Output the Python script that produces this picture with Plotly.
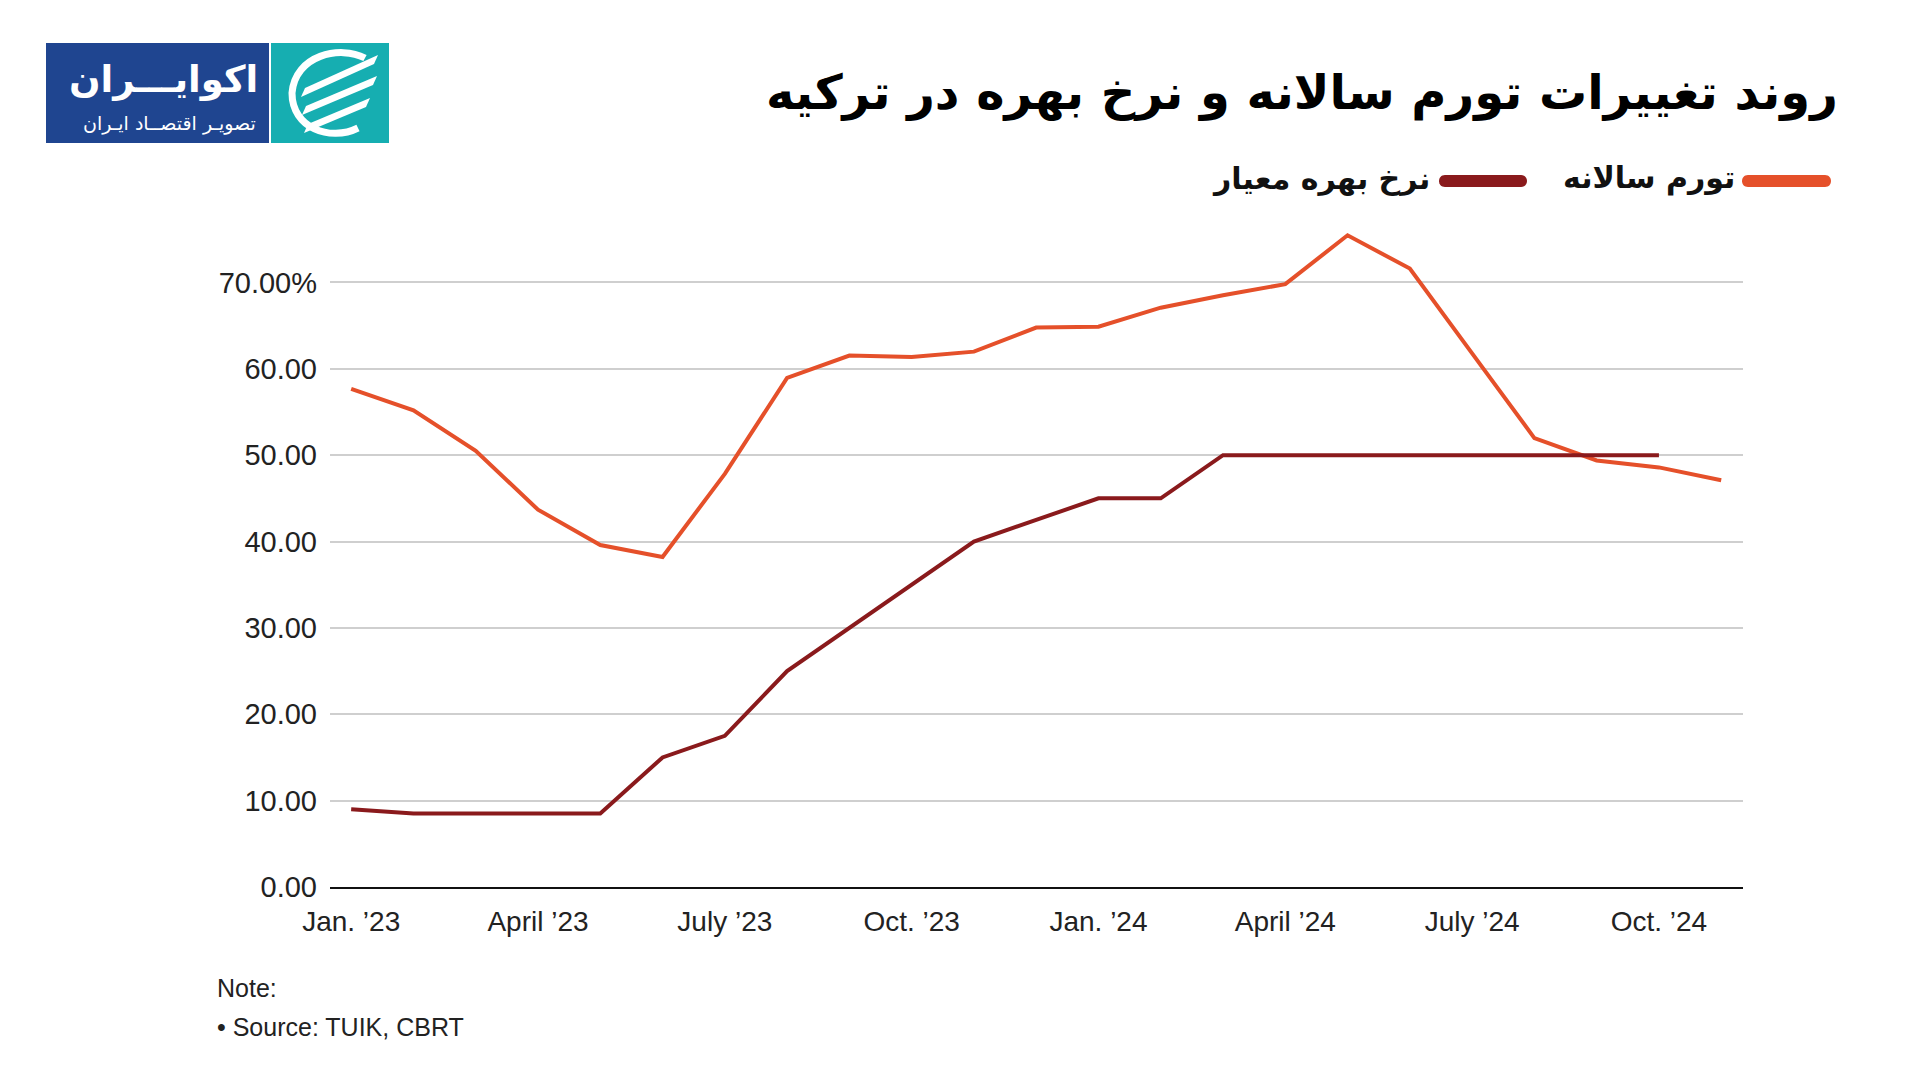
import plotly.graph_objects as go

# ---- data ----
months = ["Jan. ’23", "Feb. ’23", "Mar. ’23", "April ’23", "May ’23", "June ’23",
          "July ’23", "Aug. ’23", "Sep. ’23", "Oct. ’23", "Nov. ’23", "Dec. ’23",
          "Jan. ’24", "Feb. ’24", "Mar. ’24", "April ’24", "May ’24", "June ’24",
          "July ’24", "Aug. ’24", "Sep. ’24", "Oct. ’24", "Nov. ’24"]
inflation = [57.68, 55.18, 50.51, 43.68, 39.59, 38.21, 47.83, 58.94, 61.53, 61.36,
             61.98, 64.77, 64.86, 67.07, 68.50, 69.80, 75.45, 71.60, 61.78, 51.97,
             49.38, 48.58, 47.09]
policy_rate = [9.0, 8.5, 8.5, 8.5, 8.5, 15.0, 17.5, 25.0, 30.0, 35.0, 40.0, 42.5,
               45.0, 45.0, 50.0, 50.0, 50.0, 50.0, 50.0, 50.0, 50.0, 50.0]
series_names = ["تورم سالانه", "نرخ بهره معیار"]
x_ticks = ["Jan. ’23", "April ’23", "July ’23", "Oct. ’23",
           "Jan. ’24", "April ’24", "July ’24", "Oct. ’24"]
y_tickvals = [0, 10, 20, 30, 40, 50, 60, 70]
y_ticktext = ["0.00", "10.00", "20.00", "30.00", "40.00", "50.00", "60.00", "70.00%"]
title_text = "روند تغییرات تورم سالانه و نرخ بهره در ترکیه"
note_lines = ["Note:", "• Source: TUIK, CBRT"]
logo_title = "اکوایـــران"
logo_sub = "تصویـر اقتصــاد ایـران"

ORANGE = "#E5502A"
DARKRED = "#8A1A1C"
BLUE = "#1F4590"
TEAL = "#16AEB1"

W, H = 1920, 1080
L, R, T, B = 330, 177, 196, 193
PW, PH = W - L - R, H - T - B


def px(x):
    return (x - L) / PW


def py(y):
    return (H - B - y) / PH


fig = go.Figure()
fig.add_trace(go.Scatter(x=months, y=inflation, mode="lines", name=series_names[0],
                         line=dict(color=ORANGE, width=4)))
fig.add_trace(go.Scatter(x=months[:len(policy_rate)], y=policy_rate, mode="lines",
                         name=series_names[1], line=dict(color=DARKRED, width=4)))

shapes = []
annotations = []


def pill(x0, x1, yc, h, color):
    r = h / 2
    p = (f"M {px(x0 + r)} {py(yc - r)} L {px(x1 - r)} {py(yc - r)} "
         f"C {px(x1 + r * 0.33)} {py(yc - r)} {px(x1 + r * 0.33)} {py(yc + r)} {px(x1 - r)} {py(yc + r)} "
         f"L {px(x0 + r)} {py(yc + r)} "
         f"C {px(x0 - r * 0.33)} {py(yc + r)} {px(x0 - r * 0.33)} {py(yc - r)} {px(x0 + r)} {py(yc - r)} Z")
    return dict(type="path", xref="paper", yref="paper", path=p,
                fillcolor=color, line=dict(width=0))


shapes.append(pill(1742, 1831, 181, 12, ORANGE))
shapes.append(pill(1439, 1527, 181, 12, DARKRED))
annotations.append(dict(x=px(1737), y=py(178), xref="paper", yref="paper",
                        text=f"<b>{series_names[0]}</b>", showarrow=False,
                        xanchor="right", yanchor="middle",
                        font=dict(family="DejaVu Sans", size=30, color="#111")))
annotations.append(dict(x=px(1432), y=py(178), xref="paper", yref="paper",
                        text=f"<b>{series_names[1]}</b>", showarrow=False,
                        xanchor="right", yanchor="middle",
                        font=dict(family="DejaVu Sans", size=30, color="#111")))

# title
annotations.append(dict(x=px(1840), y=py(92), xref="paper", yref="paper",
                        text=f"<b>{title_text}</b>", showarrow=False,
                        xanchor="right", yanchor="middle",
                        font=dict(family="DejaVu Sans", size=48, color="#000")))

# note
annotations.append(dict(x=px(215), y=py(988), xref="paper", yref="paper",
                        text=note_lines[0], showarrow=False,
                        xanchor="left", yanchor="middle",
                        font=dict(family="Liberation Sans, Arial", size=25, color="#222")))
annotations.append(dict(x=px(215), y=py(1027), xref="paper", yref="paper",
                        text=note_lines[1], showarrow=False,
                        xanchor="left", yanchor="middle",
                        font=dict(family="Liberation Sans, Arial", size=25, color="#222")))

# logo boxes
shapes.append(dict(type="rect", xref="paper", yref="paper",
                   x0=px(46), x1=px(269), y0=py(143), y1=py(43),
                   fillcolor=BLUE, line=dict(width=0), layer="above"))
shapes.append(dict(type="rect", xref="paper", yref="paper",
                   x0=px(271), x1=px(389), y0=py(143), y1=py(43),
                   fillcolor=TEAL, line=dict(width=0), layer="above"))
arc = (f"M {px(365)} {py(58)} C {px(340)} {py(45)} {px(295)} {py(55)} {px(292)} {py(93)} "
       f"C {px(292)} {py(128)} {px(330)} {py(142)} {px(358)} {py(128)}")
shapes.append(dict(type="path", xref="paper", yref="paper", path=arc,
                   line=dict(color="white", width=7), layer="above"))
for (ax0, ay0, ax1, ay1) in [(305, 88, 378, 55), (306, 106, 377, 76), (308, 124, 370, 98)]:
    p = (f"M {px(ax0)} {py(ay0)} L {px(ax1)} {py(ay1)} L {px(ax1 - 4)} {py(ay1 + 9)} "
         f"L {px(ax0 - 4)} {py(ay0 + 9)} Z")
    shapes.append(dict(type="path", xref="paper", yref="paper", path=p,
                       fillcolor="white", line=dict(width=0), layer="above"))

annotations.append(dict(x=px(260), y=py(80), xref="paper", yref="paper",
                        text=f"<b>{logo_title}</b>", showarrow=False,
                        xanchor="right", yanchor="middle",
                        font=dict(family="DejaVu Sans", size=37, color="white")))
annotations.append(dict(x=px(258), y=py(124), xref="paper", yref="paper",
                        text=logo_sub, showarrow=False,
                        xanchor="right", yanchor="middle",
                        font=dict(family="DejaVu Sans", size=19, color="white")))

fig.update_layout(
    width=W, height=H,
    margin=dict(l=L, r=R, t=T, b=B),
    paper_bgcolor="white", plot_bgcolor="white",
    showlegend=False,
    shapes=shapes, annotations=annotations,
    font=dict(family="Liberation Sans, Arial", color="#222"),
    xaxis=dict(type="category", range=[-0.34, 22.35],
               tickmode="array", tickvals=x_ticks, ticktext=x_ticks,
               showgrid=False, showline=True, linecolor="#111", linewidth=2,
               ticks="", tickfont=dict(size=28, color="#222"),
               ticklabelstandoff=8, zeroline=False, fixedrange=True),
    yaxis=dict(range=[0, 80], tickmode="array", tickvals=y_tickvals,
               ticktext=y_ticktext, showgrid=True, gridcolor="#cfcfcf",
               gridwidth=2, zeroline=False, showline=False, ticks="",
               tickfont=dict(size=29, color="#222"), ticklabelstandoff=12,
               fixedrange=True),
)

fig.write_html("out.html")
